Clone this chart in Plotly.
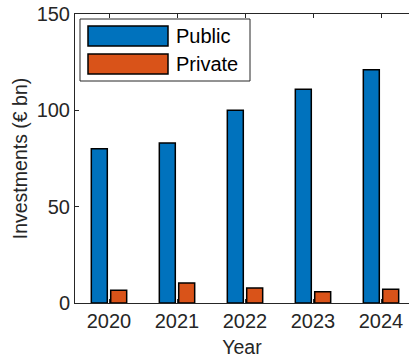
import plotly.graph_objects as go

# Annual investment figures (EUR billions)
years = [2020, 2021, 2022, 2023, 2024]
public = [80, 83, 100, 111, 121]
private = [6.6, 10.4, 7.8, 5.9, 7.1]
series_names = ["Public", "Private"]
y_ticks = [0, 50, 100, 150]

blue = "#0072BD"
orange = "#D95319"
ink = "#262626"
family = "Liberation Sans, Arial, sans-serif"
font = dict(family=family, size=20, color=ink)
title_font = dict(family=family, size=19.5, color=ink)

xpos = list(range(len(years)))
bar_w = 0.235

fig = go.Figure()
fig.add_trace(go.Bar(
    x=xpos, y=public, name=series_names[0], width=bar_w, offset=-0.26,
    marker=dict(color=blue, line=dict(color="black", width=1.5)),
))
fig.add_trace(go.Bar(
    x=xpos, y=private, name=series_names[1], width=bar_w, offset=0.025,
    marker=dict(color=orange, line=dict(color="black", width=1.5)),
))

# Legend box with wide swatches, drawn in paper coordinates
W, H = 409, 362
ml, mt, mb, mr = 75, 14, 59, 0
pw, ph = W - ml - mr, H - mt - mb


def px(x):
    return (x - ml) / pw


def py(y):
    return 1 - (y - mt) / ph


shapes = [
    dict(type="rect", xref="paper", yref="paper", x0=px(80), x1=px(250), y0=py(81), y1=py(19),
         line=dict(color=ink, width=1), fillcolor="white", layer="above"),
]
for i, (name, col) in enumerate(zip(series_names, [blue, orange])):
    top = 26 + i * 28
    shapes.append(dict(type="rect", xref="paper", yref="paper",
                       x0=px(88), x1=px(168), y0=py(top + 20), y1=py(top),
                       line=dict(color="black", width=1.5), fillcolor=col, layer="above"))
    fig.add_annotation(xref="paper", yref="paper", x=px(174), y=py(top + 10),
                       text=name, showarrow=False, xanchor="left", yanchor="middle",
                       font=dict(family=family, size=20, color="black"))

fig.update_layout(
    width=W, height=H,
    margin=dict(l=ml, r=mr, t=mt, b=mb),
    plot_bgcolor="white", paper_bgcolor="white",
    font=font,
    showlegend=False,
    barmode="overlay",
    shapes=shapes,
)
fig.update_xaxes(
    range=[-0.5, 4.5 - 6 / 68],
    tickmode="array", tickvals=xpos, ticktext=[str(y) for y in years],
    ticks="inside", ticklen=4, tickcolor=ink,
    showline=True, linecolor=ink, linewidth=1, mirror="ticks",
    showgrid=False, zeroline=False,
    title=dict(text="Year", standoff=9, font=title_font),
)
fig.update_yaxes(
    range=[0, 150], tickvals=y_ticks,
    ticks="inside", ticklen=4, tickcolor=ink,
    showline=True, linecolor=ink, linewidth=1,
    showgrid=False, zeroline=False,
    title=dict(text="Investments (€ bn)", standoff=3, font=title_font),
)

fig.write_html("out.html")
